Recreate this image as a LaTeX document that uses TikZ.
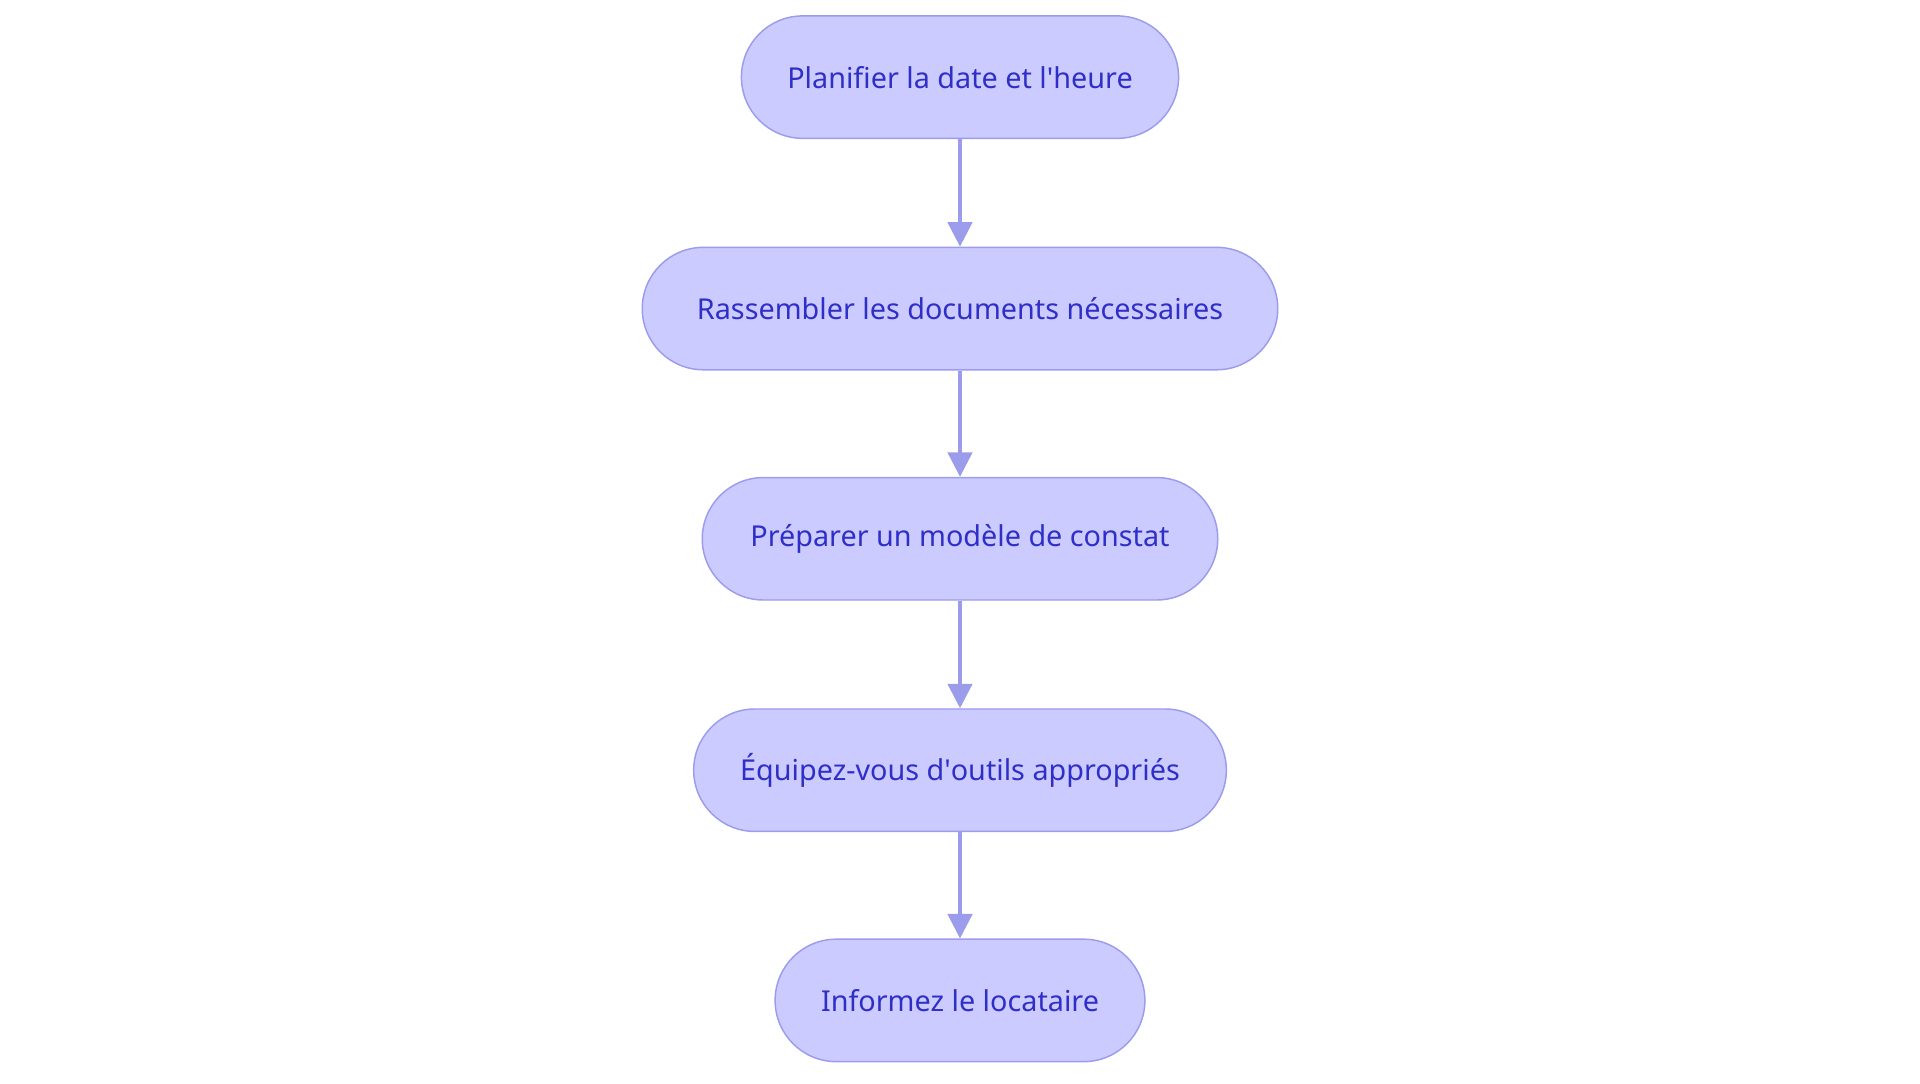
\documentclass[tikz,border=0pt]{standalone}
\usepackage{fontspec}
\setmainfont{Noto Sans}
\usetikzlibrary{arrows.meta,positioning}
\definecolor{stepfill}{HTML}{CBCBFF}
\definecolor{stepline}{HTML}{9C9CEC}
\definecolor{steptext}{HTML}{2F2FC8}
\begin{document}
\begin{tikzpicture}[x=1pt,y=1pt,
  stepbox/.style = {draw=stepline,fill=stepfill,line width=1.2pt,
    rounded corners=50pt,minimum height=100pt,text=steptext,font=\fontsize{23.5}{28}\selectfont,inner xsep=0pt},
  flow/.style = {draw=stepline,line width=2.6pt,-{Triangle[length=20pt,width=20pt]}}]
	\useasboundingbox (0,0) rectangle (1568,-885);
	\node (plan) at (784,-63) [stepbox,minimum width=357pt] {Planifier la date et l\textquotesingle heure};
	\node (docs) at (784,-252) [stepbox,minimum width=519pt] {Rassembler les documents nécessaires};
	\node (mod) at (784,-440) [stepbox,minimum width=421pt] {Préparer un modèle de constat};
	\node (outil) at (784,-629) [stepbox,minimum width=435pt] {Équipez-vous d\textquotesingle outils appropriés};
	\node (loc) at (784,-817) [stepbox,minimum width=302pt] {Informez le locataire};
	\draw [flow] (plan) -- (docs);
	\draw [flow] (docs) -- (mod);
	\draw [flow] (mod) -- (outil);
	\draw [flow] (outil) -- (loc);
\end{tikzpicture}
\end{document}
